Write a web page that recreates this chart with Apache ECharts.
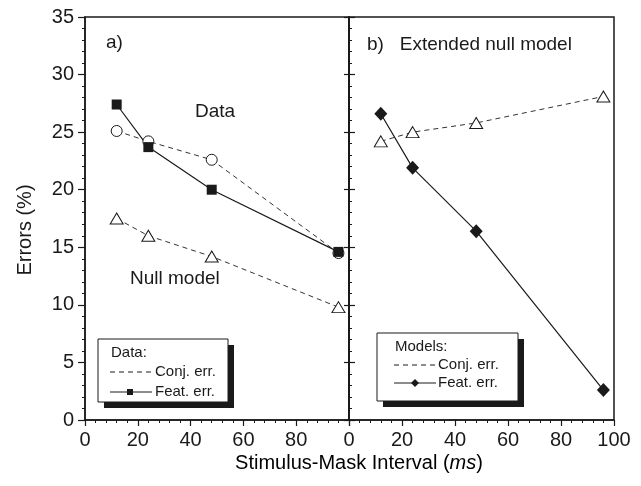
<!DOCTYPE html>
<html>
<head>
<meta charset="utf-8">
<script src="https://cdn.jsdelivr.net/npm/echarts@6/dist/echarts.min.js"></script>
<style>
  html, body { margin: 0; padding: 0; background: #fff; }
  #chart { width: 641px; height: 486px; }
</style>
</head>
<body>
<div id="chart"></div>
<script>
// SOA in ms, shared by both panels
const soa = [12, 24, 48, 96];

// panel a) observed data + null model
const dataConj = [25.1, 24.2, 22.6, 14.5];
const dataFeat = [27.4, 23.7, 20.0, 14.6];
const nullConj = [17.5, 16.0, 14.2, 9.8];

// panel b) extended null model
const modelConj = [24.2, 25.0, 25.8, 28.1];
const modelFeat = [26.6, 21.9, 16.4, 2.6];

const FONT = '"Liberation Sans", Arial, Helvetica, sans-serif';
const INK = '#1a1a1a';

const pairs = (ys) => soa.map((x, i) => [x, ys[i]]);

const chart = echarts.init(document.getElementById('chart'));

const xAxisBase = {
    type: 'value', min: 0, max: 100, interval: 20,
    axisLine: { lineStyle: { color: INK, width: 1.5 } },
    axisTick: { length: 6, lineStyle: { color: INK, width: 1.2 } },
    minorTick: { show: true, splitNumber: 5, length: 3, lineStyle: { color: INK } },
    splitLine: { show: false },
    axisLabel: { color: INK, fontSize: 20, fontFamily: FONT, margin: 10 }
};

const yAxisBase = {
    type: 'value', min: 0, max: 35, interval: 5,
    axisLine: { show: true, lineStyle: { color: INK, width: 1.5 } },
    axisTick: { show: true, length: 7, lineStyle: { color: INK, width: 1.2 } },
    minorTick: { show: true, splitNumber: 5, length: 3, lineStyle: { color: INK } },
    splitLine: { show: false },
    axisLabel: { color: INK, fontSize: 20, fontFamily: FONT, margin: 11 }
};

const dashed = { color: '#333', width: 1, type: [5, 4] };
const solid = { color: INK, width: 1.2 };
const openMark = { color: '#fff', borderColor: INK, borderWidth: 1 };
const filledMark = { color: INK };

// legend box: frame + solid drop shadow
function legendBox(x, y, w, h) {
    return [
        { type: 'rect', shape: { x: x + 6, y: y + 6, width: w, height: h }, style: { fill: INK }, z: 100 },
        { type: 'rect', shape: { x: x, y: y, width: w, height: h }, style: { fill: '#fff', stroke: INK, lineWidth: 1 }, z: 101 }
    ];
}
function txt(x, y, text, size, extra) {
    return Object.assign({
        type: 'text', x: x, y: y, z: 102,
        style: { text: text, fill: INK, fontSize: size, fontFamily: FONT, textVerticalAlign: 'middle' }
    }, extra || {});
}
function seg(x1, y, x2, lineDash) {
    return { type: 'line', z: 102, shape: { x1: x1, y1: y, x2: x2, y2: y }, style: { stroke: INK, lineWidth: 1, lineDash: lineDash || null } };
}

const graphics = [].concat(
    legendBox(98, 339, 130, 63),
    [
        txt(111, 353, 'Data:', 15),
        seg(110, 372, 152, [5, 4]),
        txt(155, 372, 'Conj. err.', 15),
        seg(110, 392, 152),
        { type: 'rect', z: 103, shape: { x: 127, y: 389, width: 6, height: 6 }, style: { fill: INK } },
        txt(155, 392, 'Feat. err.', 15)
    ],
    legendBox(377, 333, 141, 68),
    [
        txt(395, 347, 'Models:', 15),
        seg(394, 365, 436, [5, 4]),
        txt(438, 365, 'Conj. err.', 15),
        seg(394, 383, 436),
        { type: 'polygon', z: 103, shape: { points: [[415, 379], [419, 383], [415, 387], [411, 383]] }, style: { fill: INK } },
        txt(438, 383, 'Feat. err.', 15)
    ],
    [
        txt(106, 43, 'a)', 19),
        txt(195, 112, 'Data', 19),
        txt(130, 279, 'Null model', 19),
        txt(367, 45, 'b)   Extended null model', 19),
        {
            type: 'text', x: 25, y: 230, rotation: Math.PI / 2,
            style: { text: 'Errors (%)', fill: INK, fontSize: 20, fontFamily: FONT, textAlign: 'center', textVerticalAlign: 'middle' }
        },
        {
            type: 'text', x: 359, y: 463,
            style: {
                text: '{n|Stimulus-Mask Interval (}{i|ms}{n|)}',
                textAlign: 'center', textVerticalAlign: 'middle',
                rich: {
                    n: { fontSize: 20, fontFamily: FONT, color: INK },
                    i: { fontSize: 20, fontFamily: FONT, fontStyle: 'italic', color: INK }
                }
            }
        }
    ]
);

const option = {
    backgroundColor: '#fff',
    animation: false,
    grid: [
        { left: 85, top: 17, width: 264, height: 403, show: true, borderColor: INK, borderWidth: 1.5, backgroundColor: 'transparent' },
        { left: 349, top: 17, width: 265, height: 403, show: true, borderColor: INK, borderWidth: 1.5, backgroundColor: 'transparent' }
    ],
    xAxis: [
        Object.assign({}, xAxisBase, { gridIndex: 0, axisLabel: Object.assign({}, xAxisBase.axisLabel, { showMaxLabel: false }) }),
        Object.assign({}, xAxisBase, { gridIndex: 1 })
    ],
    yAxis: [
        Object.assign({}, yAxisBase, { gridIndex: 0 }),
        Object.assign({}, yAxisBase, {
            gridIndex: 0, position: 'right',
            axisLabel: { show: false },
            axisTick: { show: true, inside: true, length: 5, lineStyle: { color: INK, width: 1.2 } },
            minorTick: { show: false }
        }),
        Object.assign({}, yAxisBase, {
            gridIndex: 1,
            axisLabel: { show: false },
            axisTick: { show: true, inside: true, length: 6, lineStyle: { color: INK, width: 1.2 } },
            minorTick: { show: true, splitNumber: 5, length: 3, lineStyle: { color: INK } }
        })
    ],
    graphic: graphics,
    series: [
        {
            name: 'Null model', type: 'line', xAxisIndex: 0, yAxisIndex: 0,
            data: pairs(nullConj), symbol: 'triangle', symbolSize: [13, 11],
            lineStyle: dashed, itemStyle: openMark
        },
        {
            name: 'Conj. err. (data)', type: 'line', xAxisIndex: 0, yAxisIndex: 0,
            data: pairs(dataConj), symbol: 'circle', symbolSize: 11,
            lineStyle: dashed, itemStyle: openMark
        },
        {
            name: 'Feat. err. (data)', type: 'line', xAxisIndex: 0, yAxisIndex: 0,
            data: pairs(dataFeat), symbol: 'rect', symbolSize: 10,
            lineStyle: solid, itemStyle: filledMark
        },
        {
            name: 'Conj. err. (model)', type: 'line', xAxisIndex: 1, yAxisIndex: 2,
            data: pairs(modelConj), symbol: 'triangle', symbolSize: [13, 11],
            lineStyle: dashed, itemStyle: openMark
        },
        {
            name: 'Feat. err. (model)', type: 'line', xAxisIndex: 1, yAxisIndex: 2,
            data: pairs(modelFeat), symbol: 'diamond', symbolSize: [13, 14],
            lineStyle: solid, itemStyle: filledMark
        }
    ]
};

chart.setOption(option);
</script>
</body>
</html>
